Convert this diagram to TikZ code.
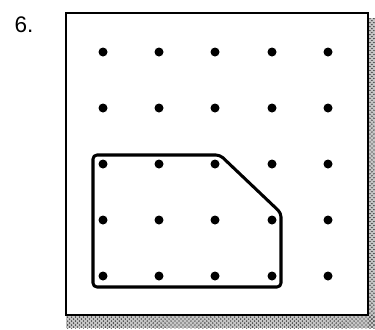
\documentclass[tikz,border=0pt]{standalone}
\usepackage{fontspec}
\setmainfont{Liberation Sans}
\usetikzlibrary{patterns}

\begin{document}
\begin{tikzpicture}[x=0.0265cm,y=-0.0265cm,
    peg/.style={fill=black},
    bandline/.style={line width=2.3pt,rounded corners=3pt,line join=round}]
  \useasboundingbox (0,0) rectangle (375,329);
  \begin{scope}
    % board with its shadow
    \fill[gray!45] (368,18) rectangle (375,328);
    \fill[gray!45] (66,315) rectangle (375,328);
    \fill[pattern=crosshatch dots] (368,18) rectangle (375,328);
    \fill[pattern=crosshatch dots] (66,315) rectangle (375,328);
    \draw[line width=1.4pt,fill=white] (66,13) rectangle (368,315);
    \node[font=\fontsize{17}{20}\selectfont] (num) at (24,25) {6.};

    % pegs
    \fill[peg] (103,52) circle (4.5);
    \fill[peg] (159,52) circle (4.5);
    \fill[peg] (215,52) circle (4.5);
    \fill[peg] (272,52) circle (4.5);
    \fill[peg] (328,52) circle (4.5);

    \fill[peg] (103,108) circle (4.5);
    \fill[peg] (159,108) circle (4.5);
    \fill[peg] (215,108) circle (4.5);
    \fill[peg] (272,108) circle (4.5);
    \fill[peg] (328,108) circle (4.5);

    \fill[peg] (103,164) circle (4.5);
    \fill[peg] (159,164) circle (4.5);
    \fill[peg] (215,164) circle (4.5);
    \fill[peg] (272,164) circle (4.5);
    \fill[peg] (328,164) circle (4.5);

    \fill[peg] (103,220) circle (4.5);
    \fill[peg] (159,220) circle (4.5);
    \fill[peg] (215,220) circle (4.5);
    \fill[peg] (272,220) circle (4.5);
    \fill[peg] (328,220) circle (4.5);

    \fill[peg] (103,276) circle (4.5);
    \fill[peg] (159,276) circle (4.5);
    \fill[peg] (215,276) circle (4.5);
    \fill[peg] (272,276) circle (4.5);
    \fill[peg] (328,276) circle (4.5);

    % band around the pegs
    \draw[bandline] (93,155) -- (220,155) -- (281,213) -- (281,287) -- (93,287) -- cycle;
  \end{scope}
\end{tikzpicture}
\end{document}
